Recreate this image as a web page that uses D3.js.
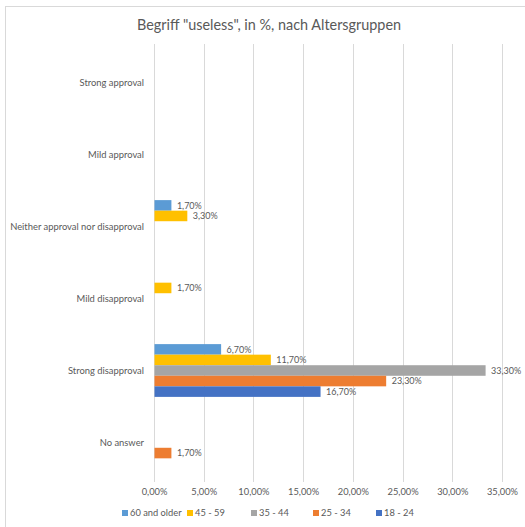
<!DOCTYPE html>
<html>
<head>
<meta charset="utf-8">
<script src="https://cdn.jsdelivr.net/npm/d3@7"></script>
<style>
  html, body { margin: 0; padding: 0; background: #ffffff; }
  svg { display: block; font-family: Lato, "Open Sans", sans-serif; }
</style>
</head>
<body>
<svg id="chart" width="525" height="527"></svg>
<script>
const title = 'Begriff "useless", in %, nach Altersgruppen';
const categories = ["Strong approval", "Mild approval", "Neither approval nor disapproval", "Mild disapproval", "Strong disapproval", "No answer"];
const seriesNames = ["60 and older", "45 - 59", "35 - 44", "25 - 34", "18 - 24"];
const seriesColors = ["#5B9BD5", "#FFC000", "#A5A5A5", "#ED7D31", "#4472C4"];
// values in % per series, in category order (null = no bar)
const s60plus = [null, null, 1.7, null, 6.7, null];
const s45_59 = [null, null, 3.3, 1.7, 11.7, null];
const s35_44 = [null, null, null, null, 33.3, null];
const s25_34 = [null, null, null, null, 23.3, 1.7];
const s18_24 = [null, null, null, null, 16.7, null];
const xTicks = [0, 5, 10, 15, 20, 25, 30, 35];

const seriesValues = [s60plus, s45_59, s35_44, s25_34, s18_24];

const locale = d3.formatLocale({decimal: ",", thousands: ".", grouping: [3], currency: ["", " €"]});
const fmt = v => locale.format(".2f")(v) + "%";

const svg = d3.select("#chart");
const textColor = "#595959";
const gridColor = "#d9d9d9";

// outer chart frame
svg.append("rect").attr("x", 5.5).attr("y", 6.5).attr("width", 540).attr("height", 540)
  .attr("fill", "none").attr("stroke", gridColor).attr("stroke-width", 1);

const plot = {left: 154, right: 502, top: 46.5, bottom: 478.5};

const x = d3.scaleLinear().domain([0, 35]).range([plot.left, plot.right]);
const y = d3.scaleBand().domain(categories).range([plot.top, plot.bottom])
  .paddingInner(0.267).paddingOuter(0.1335);
const ySub = d3.scaleBand().domain(seriesNames).range([0, y.bandwidth()]);

// title
svg.append("text").attr("x", 269).attr("y", 30).attr("text-anchor", "middle")
  .attr("font-size", 14.4).attr("fill", textColor).text(title);

// gridlines
svg.append("g").selectAll("line").data(xTicks).join("line")
  .attr("x1", d => Math.round(x(d)) + 0.5).attr("x2", d => Math.round(x(d)) + 0.5)
  .attr("y1", 44).attr("y2", 482)
  .attr("stroke", gridColor).attr("stroke-width", 1);

// x axis labels
const xAxis = d3.axisBottom(x).tickValues(xTicks).tickFormat(fmt).tickSize(0).tickPadding(0);
const gx = svg.append("g").attr("transform", `translate(0, 488)`).call(xAxis);
gx.select(".domain").remove();
gx.selectAll("text").attr("font-size", 9.3).attr("fill", textColor)
  .attr("font-family", "Lato, 'Open Sans', sans-serif").attr("dy", "0.71em");

// y axis labels
const yAxis = d3.axisLeft(y).tickSize(0).tickPadding(0);
const gy = svg.append("g").attr("transform", `translate(144, 0)`).call(yAxis);
gy.select(".domain").remove();
gy.selectAll("text").attr("font-size", 9.4).attr("fill", textColor)
  .attr("font-family", "Lato, 'Open Sans', sans-serif");

// bars
const barData = [];
seriesNames.forEach((s, si) => {
  categories.forEach((c, ci) => {
    const v = seriesValues[si][ci];
    if (v !== null) barData.push({series: s, cat: c, value: v, color: seriesColors[si]});
  });
});

svg.append("g").selectAll("rect").data(barData).join("rect")
  .attr("x", x(0) + 0.5)
  .attr("y", d => y(d.cat) + ySub(d.series))
  .attr("width", d => x(d.value) - x(0))
  .attr("height", ySub.bandwidth())
  .attr("fill", d => d.color);

svg.append("g").selectAll("text").data(barData).join("text")
  .attr("x", d => x(d.value) + 6)
  .attr("y", d => y(d.cat) + ySub(d.series) + ySub.bandwidth() / 2)
  .attr("dy", "0.35em")
  .attr("font-size", 9).attr("fill", textColor)
  .text(d => fmt(d.value));

// legend
const legendX = [122, 187, 251, 313, 376];
const lg = svg.append("g").selectAll("g").data(seriesNames).join("g")
  .attr("transform", (d, i) => `translate(${legendX[i]}, 513)`);
lg.append("rect").attr("x", 0).attr("y", -3).attr("width", 6).attr("height", 6)
  .attr("fill", (d, i) => seriesColors[i]);
lg.append("text").attr("x", 8).attr("y", 0).attr("dy", "0.35em")
  .attr("font-size", 9.3).attr("fill", textColor).text(d => d);
</script>
</body>
</html>
